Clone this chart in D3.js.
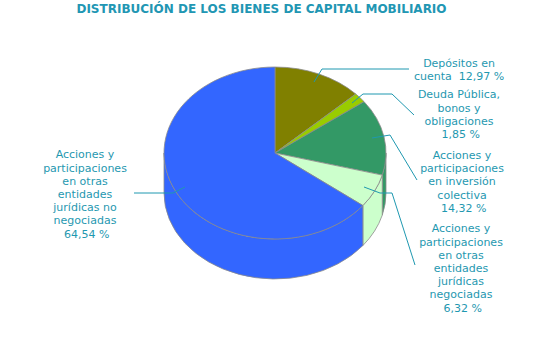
<!DOCTYPE html>
<html>
<head>
<meta charset="utf-8">
<script src="https://cdn.jsdelivr.net/npm/d3@7/dist/d3.min.js"></script>
<style>
  html, body { margin: 0; padding: 0; background: #fff; }
  text { font-family: "DejaVu Sans", Verdana, sans-serif; white-space: pre; }
</style>
</head>
<body>
<svg id="chart" width="550" height="350"></svg>
<script>
// ---- data ----
const titleText = "DISTRIBUCIÓN DE LOS BIENES DE CAPITAL MOBILIARIO";
const categories = [
  "Depósitos en cuenta",
  "Deuda Pública, bonos y obligaciones",
  "Acciones y participaciones en inversión colectiva",
  "Acciones y participaciones en otras entidades jurídicas negociadas",
  "Acciones y participaciones en otras entidades jurídicas no negociadas"
];
const values = [12.97, 1.85, 14.32, 6.32, 64.54];
const colors = ["#808000", "#99CC00", "#339966", "#CCFFCC", "#3366FF"];
const labelLines = [
  ["Depósitos en", "cuenta  12,97 %"],
  ["Deuda Pública,", "bonos y", "obligaciones", " 1,85 %"],
  ["Acciones y", "participaciones", "en inversión", "colectiva", " 14,32 %"],
  ["Acciones y", "participaciones", "en otras", "entidades", "jurídicas", "negociadas", " 6,32 %"],
  ["Acciones y", "participaciones", "en otras", "entidades", "jurídicas no", "negociadas", " 64,54 %"]
];

// ---- layout ----
const W = 550, H = 350;
const cx = 275, cy = 153, rx = 111, ry = 86, depth = 40;
const textColor = "#1f98b0";
const labelPos = [ // [center x, first baseline]
  [459, 67], [459, 98.3], [462, 159], [461, 232.3], [85, 158.3]
];
const lineH = 13.2;
const leaders = [
  [[314, 82], [322, 69], [409, 69]],
  [[352, 103], [363, 94], [392, 94], [414, 115]],
  [[372, 138], [390, 135], [417, 180]],
  [[364, 187], [380, 193], [392, 193], [415, 265]],
  [[185, 187], [173, 193], [134, 193]]
];

const svg = d3.select("#chart");

svg.append("text")
  .attr("x", 261.5).attr("y", 12.5)
  .attr("text-anchor", "middle")
  .attr("font-size", 12).attr("font-weight", "bold")
  .attr("fill", "#2196b3")
  .text(titleText);

const pie = d3.pie().sort(null).value(d => d)
  .startAngle(0).endAngle(2 * Math.PI);
const arcs = pie(values);

const px = a => cx + rx * Math.sin(a);
const py = (a, dz = 0) => cy - ry * Math.cos(a) + dz;

// side walls (front half: angles between PI/2 and 3PI/2)
const sideG = svg.append("g");
arcs.forEach((d, i) => {
  const a0 = Math.max(d.startAngle, Math.PI / 2);
  const a1 = Math.min(d.endAngle, 3 * Math.PI / 2);
  if (a1 <= a0) return;
  const path = `M${px(a0)},${py(a0)} A${rx},${ry} 0 0 1 ${px(a1)},${py(a1)} ` +
    `L${px(a1)},${py(a1, depth)} A${rx},${ry} 0 0 0 ${px(a0)},${py(a0, depth)} Z`;
  sideG.append("path").attr("d", path)
    .attr("fill", colors[i]).attr("stroke", "#8a8a8a").attr("stroke-width", 0.8);
});

// top faces
const topG = svg.append("g");
arcs.forEach((d, i) => {
  const a0 = d.startAngle, a1 = d.endAngle;
  const large = (a1 - a0) > Math.PI ? 1 : 0;
  const path = `M${cx},${cy} L${px(a0)},${py(a0)} A${rx},${ry} 0 ${large} 1 ${px(a1)},${py(a1)} Z`;
  topG.append("path").attr("d", path)
    .attr("fill", colors[i]).attr("stroke", "#8a8a8a").attr("stroke-width", 0.8)
    .attr("stroke-linejoin", "round");
});

// leader lines
const line = d3.line();
svg.append("g").selectAll("path").data(leaders).join("path")
  .attr("d", d => line(d))
  .attr("fill", "none").attr("stroke", "#1f98b0").attr("stroke-width", 1);

// labels
const lg = svg.append("g");
labelLines.forEach((lines, i) => {
  const t = lg.append("text")
    .attr("text-anchor", "middle")
    .attr("font-size", 11)
    .attr("fill", textColor);
  lines.forEach((s, j) => {
    t.append("tspan")
      .attr("x", labelPos[i][0])
      .attr("y", labelPos[i][1] + j * lineH)
      .text(s);
  });
});
</script>
</body>
</html>
